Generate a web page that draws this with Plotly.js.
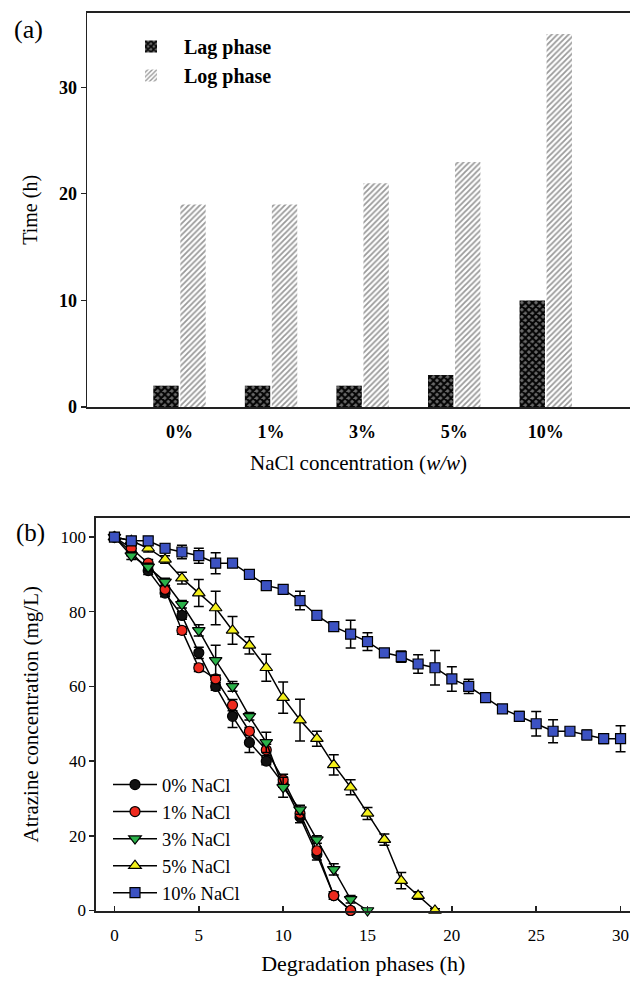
<!DOCTYPE html>
<html>
<head>
<meta charset="utf-8">
<script src="https://cdn.plot.ly/plotly-3.0.1.min.js"></script>
<style>html,body{margin:0;padding:0;background:#fff;}#chart{width:630px;height:987px;}</style>
</head>
<body>
<div id="chart"></div>
<script>
// Panel (a)
const concentrations = ["0%", "1%", "3%", "5%", "10%"];
const lagPhase = [2, 2, 2, 3, 10];
const logPhase = [19, 19, 21, 23, 35];

// Panel (b)
const timeH = [0,1,2,3,4,5,6,7,8,9,10,11,12,13,14,15,16,17,18,19,20,21,22,23,24,25,26,27,28,29,30];
const nacl0 = [100, 96, 91, 85, 79, 69, 60, 52, 45, 40, 34, 25, 15, 4, 0];
const nacl0Err = [0.5, 1, 1, 1, 1, 1.5, 1, 3, 2.7, 1, 1, 1.5, 1.5, 1, 0.5];
const nacl1 = [100, 97, 93, 86, 75, 65, 62, 55, 48, 43, 35, 26, 16, 4, 0];
const nacl1Err = [0.5, 1, 1, 1, 1, 1, 1, 1.5, 1, 1.5, 1.5, 1.5, 1, 1, 0.5];
const nacl3 = [100, 95, 92, 88, 82, 75, 67, 60, 52, 45, 33, 27, 19, 11, 3, 0];
const nacl3Err = [0.5, 1, 1, 1, 1, 1.5, 4, 1.3, 1, 2.7, 2.7, 1.2, 1, 1.5, 1, 0.5];
const nacl5 = [100, 99, 97, 94, 89, 85, 81, 75, 71, 65, 57, 51, 46, 39, 33, 26, 19, 8, 4, 0];
const nacl5Err = [0.5, 1, 1, 1, 1.6, 3.6, 4.5, 3.7, 2.3, 3.6, 4.2, 5.6, 2, 2.7, 2, 1.6, 1.5, 2.2, 1, 0.5];
const nacl10 = [100, 99, 99, 97, 96, 95, 93, 93, 90, 87, 86, 83, 79, 76, 74, 72, 69, 68, 66, 65, 62, 60, 57, 54, 52, 50, 48, 48, 47, 46, 46];
const nacl10Err = [0.5, 1, 1, 1.2, 1.8, 2, 2.8, 1, 1, 1, 1, 2.5, 1, 1, 3.7, 2.4, 1, 1.5, 2.5, 4.6, 3.3, 1.9, 1, 1, 1.3, 3.3, 3.1, 1, 1.3, 1.3, 3.5];

const seriesNames = ["0% NaCl", "1% NaCl", "3% NaCl", "5% NaCl", "10% NaCl"];
const seriesVals = [nacl0, nacl1, nacl3, nacl5, nacl10];
const seriesErr = [nacl0Err, nacl1Err, nacl3Err, nacl5Err, nacl10Err];
const seriesColors = ["#111111", "#ee2a1e", "#2bb24a", "#f4f01a", "#3c52c2"];
const seriesSymbols = ["circle", "circle", "triangle-down", "triangle-up", "square"];
const seriesSizes = [10, 10, 11, 11, 10];

const W = 630, H = 987;
const FONT = "'Liberation Serif', 'Times New Roman', Times, serif";

const traces = [
  {
    type: "bar", name: "Lag phase", x: concentrations, y: lagPhase,
    xaxis: "x", yaxis: "y", legend: "legend",
    marker: {color: "#111", line: {width: 0},
      pattern: {shape: "x", fgcolor: "#050505", bgcolor: "#6a6a6a", size: 5, solidity: 0.65}}
  },
  {
    type: "bar", name: "Log phase", x: concentrations, y: logPhase,
    xaxis: "x", yaxis: "y", legend: "legend",
    marker: {color: "#bbb", line: {width: 0},
      pattern: {shape: "/", fgcolor: "#9a9a9a", bgcolor: "#ffffff", size: 4, solidity: 0.45}}
  }
];

seriesNames.forEach((nm, i) => {
  traces.push({
    type: "scatter", mode: "lines+markers", name: nm,
    x: timeH.slice(0, seriesVals[i].length), y: seriesVals[i],
    xaxis: "x2", yaxis: "y2", legend: "legend2", cliponaxis: false,
    line: {color: "#000", width: 1.5},
    marker: {symbol: seriesSymbols[i], size: seriesSizes[i], color: seriesColors[i], line: {color: "#000", width: 1.2}},
    error_y: {type: "data", array: seriesErr[i], visible: true, color: "#000", thickness: 1.5, width: 5}
  });
});

const layout = {
  width: W, height: H,
  margin: {l: 0, r: 0, t: 0, b: 0},
  paper_bgcolor: "#fff", plot_bgcolor: "#fff",
  font: {family: FONT, color: "#000"},
  barmode: "group", bargap: 0.41, bargroupgap: 0.06,
  xaxis: {
    domain: [87 / W, 1], range: [-1.01, 4.92], type: "category",
    showline: true, linecolor: "#222", linewidth: 1.5, mirror: true,
    ticks: "", showgrid: false, zeroline: false,
    tickfont: {family: FONT, size: 18, weight: "bold"}, ticklabelstandoff: 8,
    title: {text: "NaCl concentration (<i>w/w</i>)", font: {family: FONT, size: 21}, standoff: 14}
  },
  yaxis: {
    domain: [1 - 407 / H, 1 - 12.7 / H], range: [0, 37],
    showline: true, linecolor: "#222", linewidth: 1.5,
    ticks: "outside", ticklen: 5, tickwidth: 1.2, tickcolor: "#222",
    tickvals: [0, 10, 20, 30], showgrid: false, zeroline: false,
    tickfont: {family: FONT, size: 18, weight: "bold"},
    title: {text: "Time (h)", font: {family: FONT, size: 20}, standoff: 16}
  },
  xaxis2: {
    domain: [96.4 / W, 1], range: [-1.07, 30.56],
    anchor: "y2",
    showline: true, linecolor: "#222", linewidth: 2, mirror: true,
    ticks: "inside", ticklen: 5, tickwidth: 1.5, tickcolor: "#222",
    dtick: 5, tick0: 0, showgrid: false, zeroline: false,
    tickfont: {family: FONT, size: 17}, ticklabelstandoff: 8,
    title: {text: "Degradation phases (h)", font: {family: FONT, size: 22}, standoff: 12}
  },
  yaxis2: {
    domain: [1 - 910.5 / H, 1 - 518 / H], range: [0, 105.1],
    anchor: "x2",
    showline: true, linecolor: "#222", linewidth: 2,
    ticks: "outside", ticklen: 5, tickwidth: 1.5, tickcolor: "#222",
    dtick: 20, tick0: 0, showgrid: false, zeroline: false,
    tickfont: {family: FONT, size: 17},
    title: {text: "Atrazine concentration (mg/L)", font: {family: FONT, size: 21}, standoff: 16}
  },
  legend: {
    x: 118 / W, y: 1 - 27 / H, xanchor: "left", yanchor: "top",
    bgcolor: "rgba(0,0,0,0)", borderwidth: 0,
    font: {family: FONT, size: 20, weight: "bold"}, itemwidth: 56, traceorder: "normal"
  },
  legend2: {
    x: 108 / W, y: 1 - 766 / H, xanchor: "left", yanchor: "top",
    bgcolor: "rgba(0,0,0,0)", borderwidth: 0,
    font: {family: FONT, size: 18.5}, itemwidth: 44, traceorder: "normal"
  },
  annotations: [
    {text: "(a)", xref: "paper", yref: "paper", x: 28 / W, y: 1 - 30 / H, xanchor: "center", yanchor: "middle", showarrow: false, font: {family: FONT, size: 26}},
    {text: "(b)", xref: "paper", yref: "paper", x: 30 / W, y: 1 - 533 / H, xanchor: "center", yanchor: "middle", showarrow: false, font: {family: FONT, size: 25}}
  ]
};

Plotly.newPlot("chart", traces, layout, {displayModeBar: false, staticPlot: true});
</script>
</body>
</html>
